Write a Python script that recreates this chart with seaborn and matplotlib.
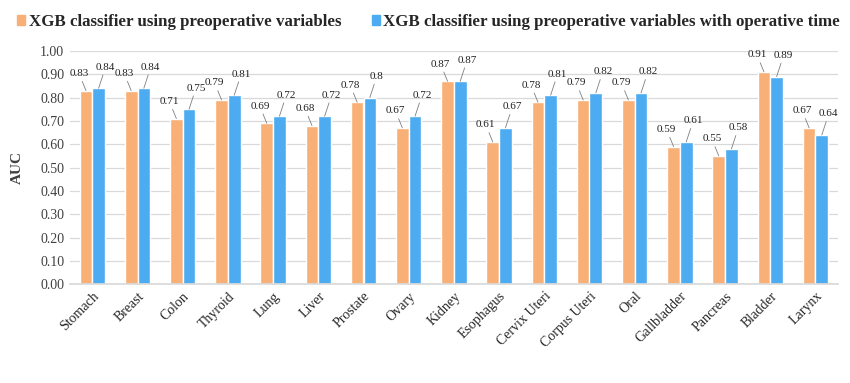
import numpy as np
import pandas as pd
import seaborn as sns
import matplotlib.pyplot as plt

sites = ['Stomach', 'Breast', 'Colon', 'Thyroid', 'Lung', 'Liver', 'Prostate', 'Ovary',
         'Kidney', 'Esophagus', 'Cervix Uteri', 'Corpus Uteri', 'Oral', 'Gallbladder',
         'Pancreas', 'Bladder', 'Larynx']
auc_preop = [0.83, 0.83, 0.71, 0.79, 0.69, 0.68, 0.78, 0.67, 0.87, 0.61, 0.78, 0.79,
             0.79, 0.59, 0.55, 0.91, 0.67]
auc_preop_optime = [0.84, 0.84, 0.75, 0.81, 0.72, 0.72, 0.80, 0.72, 0.87, 0.67, 0.81, 0.82,
                    0.82, 0.61, 0.58, 0.89, 0.64]
series = ['XGB classifier using preoperative variables',
          'XGB classifier using preoperative variables with operative time']
colors = ['#F9B077', '#4DABF2']

df = pd.DataFrame({
    'site': sites * 2,
    'auc': auc_preop + auc_preop_optime,
    'model': [series[0]] * len(sites) + [series[1]] * len(sites),
})

sns.set_theme(style='white')
plt.rcParams['font.family'] = ['Liberation Serif', 'DejaVu Serif']

fig = plt.figure(figsize=(8.5, 3.83), dpi=100)
ax = fig.add_axes([0.082, 0.258, 0.904, 0.609])

sns.barplot(data=df, x='site', y='auc', hue='model', palette=colors,
            width=0.56, gap=0, saturation=1, ax=ax, legend=False)

ax.set_ylim(0, 1.0)
ax.set_xlim(-0.5, len(sites) - 0.5)
ax.set_yticks(np.arange(0, 1.01, 0.1))
ax.set_yticklabels([f'{t:.2f}' for t in np.arange(0, 1.01, 0.1)], fontsize=10, color='#404040')
ax.yaxis.grid(True, color='#D9D9D9', lw=0.9)
ax.set_axisbelow(True)
for s in ['top', 'right', 'left']:
    ax.spines[s].set_visible(False)
ax.spines['bottom'].set_color('#D9D9D9')
ax.tick_params(axis='both', length=0, pad=4)
ax.set_xlabel('')
ax.set_ylabel('AUC', fontsize=11, fontweight='bold', color='#404040', labelpad=12)
plt.setp(ax.get_xticklabels(), rotation=45, ha='right', rotation_mode='anchor', fontsize=10)

def fmt(v):
    return f'{v:.2f}'.rstrip('0')

offsets = [(-5, 9), (5, 12)]
for cont, off in zip(ax.containers, offsets):
    for bar in cont:
        h = bar.get_height()
        x = bar.get_x() + bar.get_width() / 2
        ax.annotate(fmt(h), xy=(x, h), xytext=off, textcoords='offset points',
                    ha='center', va='bottom', fontsize=8, color='#222222',
                    arrowprops=dict(arrowstyle='-', color='#7F7F7F', lw=0.6,
                                    shrinkA=0, shrinkB=0))

handles = [plt.Rectangle((0, 0), 1, 1, color=c) for c in colors]
fig.legend(handles, series, loc='upper center', bbox_to_anchor=(0.504, 0.995), ncol=2,
           frameon=False, prop={'weight': 'bold', 'size': 12.2}, handlelength=0.5,
           handleheight=0.5, handletextpad=0.2, columnspacing=1.8, borderaxespad=0.3)

fig.savefig('out.png', dpi=100)
